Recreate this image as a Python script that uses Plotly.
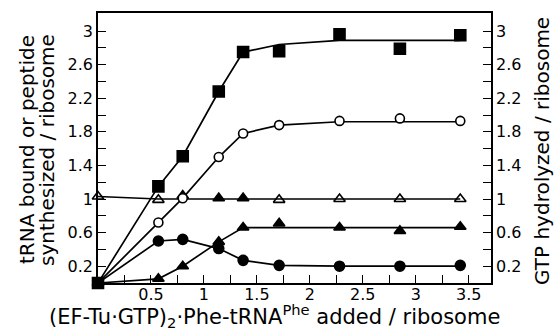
import plotly.graph_objects as go

# ---- data ----
x_added = [0, 0.57, 0.8, 1.14, 1.37, 1.71, 2.28, 2.85, 3.42]
trna_filled_sq = [0, 1.15, 1.51, 2.28, 2.75, 2.76, 2.96, 2.79, 2.95]
trna_open_circ = [0, 0.72, 1.01, 1.50, 1.78, 1.88, 1.93, 1.96, 1.93]
peptide_filled_tri = [0, 0.05, 0.20, 0.49, 0.66, 0.71, 0.66, 0.62, 0.67]
filled_circ = [0, 0.50, 0.52, 0.41, 0.27, 0.21, 0.20, 0.20, 0.21]
gtp_tri = [1.03, 0.99, 1.04, 1.01, 1.01, 0.99, 1.00, 1.00, 1.00]

# fitted curves drawn through the data
fit_x = [0, 0.57, 0.8, 1.14, 1.37, 1.71, 2.28, 3.42]
fit_sq = [0, 1.15, 1.51, 2.28, 2.75, 2.84, 2.89, 2.89]
fit_oc = [0, 0.72, 1.01, 1.50, 1.78, 1.88, 1.92, 1.92]
fit_fc = [0, 0.50, 0.52, 0.41, 0.27, 0.21, 0.20, 0.20]
fit_tri_x = [0, 0.57, 0.8, 1.14, 1.37, 3.42]
fit_tri = [0, 0.05, 0.20, 0.49, 0.66, 0.66]
fit_gtp_x = [0, 0.57, 3.42]
fit_gtp = [1.03, 1.00, 1.00]

x_tickvals = [0.5, 1, 1.5, 2, 2.5, 3, 3.5]
x_ticktext = ["0.5", "1", "1.5", "2", "2.5", "3", "3.5"]
x_minorvals = [0.25, 0.75, 1.25, 1.75, 2.25, 2.75, 3.25]
y_tickvals = [0.2, 0.6, 1.0, 1.4, 1.8, 2.2, 2.6, 3.0]
y_ticktext = ["0.2", "0.6", "1", "1.4", "1.8", "2.2", "2.6", "3"]
y_minorvals = [0.4, 0.8, 1.2, 1.6, 2.0, 2.4, 2.8]

x_title = "(EF-Tu·GTP)<sub>2</sub>·Phe-tRNA<sup>Phe</sup> added / ribosome"
y_title_lines = ["tRNA bound or peptide", "synthesized / ribosome"]
y2_title = "GTP hydrolyzed / ribosome"

gtp_symbols = ["triangle-up-open", "triangle-up-open", "triangle-up", "triangle-up", "triangle-up",
               "triangle-up-open", "triangle-up-open", "triangle-up-open", "triangle-up-open"]

FONT = "DejaVu Sans"
K = "black"
fig = go.Figure()

def line(x, y):
    fig.add_trace(go.Scatter(x=x, y=y, mode="lines", line=dict(color=K, width=1.7),
                             showlegend=False, hoverinfo="skip", cliponaxis=False))

def pts(x, y, symbol, size):
    fig.add_trace(go.Scatter(x=x, y=y, mode="markers", showlegend=False, cliponaxis=False,
                             marker=dict(symbol=symbol, size=size, color=K,
                                         line=dict(color=K, width=1.6))))

for fx, fy in [(fit_x, fit_sq), (fit_x, fit_oc), (fit_x, fit_fc), (fit_tri_x, fit_tri), (fit_gtp_x, fit_gtp)]:
    line(fx, fy)

pts(x_added, gtp_tri, gtp_symbols, 10)
pts(x_added, peptide_filled_tri, "triangle-up", 10)
pts(x_added, filled_circ, "circle", 10)
fig.add_trace(go.Scatter(x=x_added, y=trna_open_circ, mode="markers", showlegend=False, cliponaxis=False,
                         marker=dict(symbol="circle", size=9, color="white", line=dict(color=K, width=1.6))))
pts(x_added, trna_filled_sq, "square", 11)

# dummy trace for the right axis
fig.add_trace(go.Scatter(x=[None], y=[None], yaxis="y2", showlegend=False))

axis_common = dict(showline=True, linecolor=K, linewidth=1.7, ticks="inside", ticklen=8,
                   tickwidth=1.2, tickcolor=K, showgrid=False, zeroline=False,
                   tickfont=dict(family=FONT, size=16, color=K))

def minor(vals):
    return dict(tickmode="array", tickvals=vals, ticks="inside", ticklen=8,
                tickwidth=1.2, tickcolor=K, showgrid=False)

L, R, T, B = 98, 64, 11, 48
W, H = 555, 331
pw, ph = W - L - R, H - T - B

def px_x(px):
    return (px - L) / pw

def px_y(py):
    return (H - B - py) / ph

annotations = [
    dict(text=x_title, x=px_x(274), y=px_y(316), xref="paper", yref="paper",
         xanchor="center", yanchor="middle", showarrow=False,
         font=dict(family=FONT, size=21, color=K)),
    dict(text=y_title_lines[0], x=px_x(27), y=px_y(149), xref="paper", yref="paper",
         xanchor="center", yanchor="middle", textangle=-90, showarrow=False,
         font=dict(family=FONT, size=20, color=K)),
    dict(text=y_title_lines[1], x=px_x(47), y=px_y(149), xref="paper", yref="paper",
         xanchor="center", yanchor="middle", textangle=-90, showarrow=False,
         font=dict(family=FONT, size=20, color=K)),
    dict(text=y2_title, x=px_x(542), y=px_y(150), xref="paper", yref="paper",
         xanchor="center", yanchor="middle", textangle=-90, showarrow=False,
         font=dict(family=FONT, size=20, color=K)),
]

fig.update_layout(
    width=W, height=H,
    margin=dict(l=L, r=R, t=T, b=B),
    paper_bgcolor="white", plot_bgcolor="white",
    font=dict(family=FONT, color=K),
    xaxis=dict(range=[0, 3.71], tickmode="array", tickvals=x_tickvals, ticktext=x_ticktext,
               minor=minor(x_minorvals), mirror=True, ticklabelstandoff=-4, **axis_common),
    yaxis=dict(range=[0, 3.215], tickmode="array", tickvals=y_tickvals, ticktext=y_ticktext,
               minor=minor(y_minorvals), **axis_common),
    yaxis2=dict(range=[0, 3.215], tickmode="array", tickvals=y_tickvals, ticktext=y_ticktext,
                minor=minor(y_minorvals), overlaying="y", side="right", **axis_common),
    annotations=annotations,
)

# remove the default 8px page margin so the figure sits at the window's top-left corner
fig.write_html("out.html", config={"displayModeBar": False},
               post_script="document.body.style.margin='0';")
